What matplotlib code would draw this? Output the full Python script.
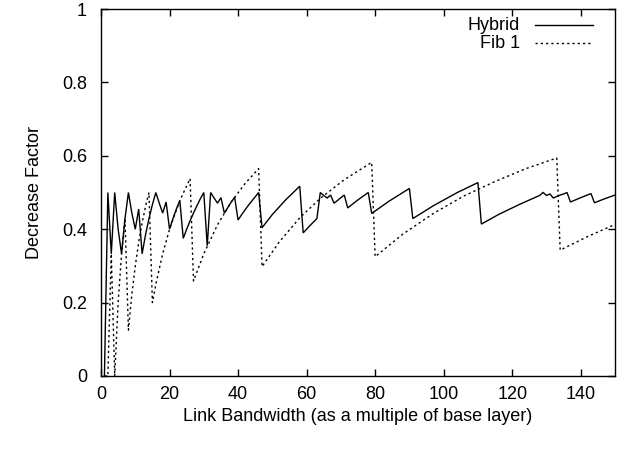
import matplotlib
matplotlib.use("Agg")
import matplotlib.pyplot as plt

plt.rcParams['font.family'] = ['Liberation Sans', 'DejaVu Sans']

# Hybrid series (x = link bandwidth, y = decrease factor)
hybrid_x = [1, 2, 3, 4, 5, 6, 7, 8, 9, 10, 11, 12, 13, 14, 15, 16, 17, 18, 19, 20,
            21, 22, 23, 24, 25, 26, 27, 28, 29, 30, 31, 32, 33, 34, 35, 36, 37, 38, 39, 40,
            41, 43, 46, 47, 50, 54, 58, 59, 61, 63, 64, 65, 66, 67, 68, 69, 70, 71, 72,
            75, 78, 79, 84, 90, 91, 97, 104, 110, 111, 116, 122, 128, 129, 130, 131,
            132, 133, 134, 135, 136, 137, 140, 143, 144, 147, 150]
hybrid_y = [0.0, 0.5, 0.333, 0.5, 0.4, 0.333, 0.429, 0.5, 0.444, 0.4, 0.455, 0.333,
            0.385, 0.429, 0.467, 0.5, 0.471, 0.444, 0.474, 0.4,
            0.429, 0.455, 0.478, 0.375, 0.4, 0.423, 0.444, 0.464, 0.483, 0.5, 0.355, 0.5,
            0.485, 0.471, 0.486, 0.444, 0.459, 0.474, 0.487, 0.425,
            0.439, 0.465, 0.5, 0.404, 0.44, 0.481, 0.517, 0.39, 0.41, 0.429, 0.5, 0.492,
            0.485, 0.493, 0.471, 0.478, 0.486, 0.493, 0.458,
            0.48, 0.5, 0.443, 0.476, 0.511, 0.429, 0.464, 0.5, 0.527, 0.414, 0.44, 0.467,
            0.492, 0.5, 0.492, 0.496,
            0.485, 0.489, 0.493, 0.496, 0.5, 0.474, 0.486, 0.497, 0.472, 0.483, 0.493]

# Fib 1 series
fib_x = [1, 2, 3, 4, 5, 6, 7, 8, 9, 10, 11, 12, 13, 14, 15, 16, 18, 20, 23, 26, 27,
         30, 34, 38, 42, 46, 47, 52, 58, 64, 71, 79, 80, 88, 97, 106, 115, 124, 133,
         134, 142, 150]
fib_y = [0.0, 0.0, 0.333, 0.0, 0.2, 0.333, 0.429, 0.125, 0.222, 0.3, 0.364, 0.417,
         0.462, 0.5, 0.2, 0.25, 0.333, 0.4, 0.478, 0.538, 0.259,
         0.333, 0.412, 0.474, 0.524, 0.565, 0.298, 0.365, 0.431, 0.484, 0.535, 0.582,
         0.325, 0.386, 0.443, 0.491, 0.53, 0.565, 0.594, 0.343, 0.38, 0.413]

series_names = ["Hybrid", "Fib 1"]
x_ticks = [0, 20, 40, 60, 80, 100, 120, 140]
y_ticks = [0, 0.2, 0.4, 0.6, 0.8, 1]
y_tick_labels = ["0", "0.2", "0.4", "0.6", "0.8", "1"]

FS = 13

fig = plt.figure(figsize=(6.32, 4.49), dpi=100)
ax = fig.add_axes([101/632, 1 - 376/449, 514/632, 367/449])

ax.plot(hybrid_x, hybrid_y, color='black', lw=1.0, solid_joinstyle='miter')
ax.plot(fib_x, fib_y, color='black', lw=1.0, linestyle=(0, (1.6, 2.2)))

ax.set_xlim(0, 150)
ax.set_ylim(0, 1)
ax.set_xticks(x_ticks)
ax.set_yticks(y_ticks)
ax.set_yticklabels(y_tick_labels)
ax.tick_params(direction='in', length=5, width=1, top=True, right=True, labelsize=FS)
ax.tick_params(axis='x', pad=7)
ax.tick_params(axis='y', pad=10)
for s in ax.spines.values():
    s.set_linewidth(1.0)

ax.set_xlabel("Link Bandwidth (as a multiple of base layer)", fontsize=FS, labelpad=4)
ax.set_ylabel("Decrease Factor", fontsize=FS, labelpad=14)

# gnuplot-style key (text right-aligned, sample to the right)
key_y = [0.956, 0.907]
styles = ['-', (0, (1.6, 2.2))]
for name, ky, st in zip(series_names, key_y, styles):
    ax.text(0.815, ky, name, transform=ax.transAxes, ha='right', va='center', fontsize=FS)
    ax.plot([0.844, 0.957], [ky, ky], transform=ax.transAxes, color='black', lw=1.0,
            linestyle=st)

fig.savefig("out.png", dpi=100)
